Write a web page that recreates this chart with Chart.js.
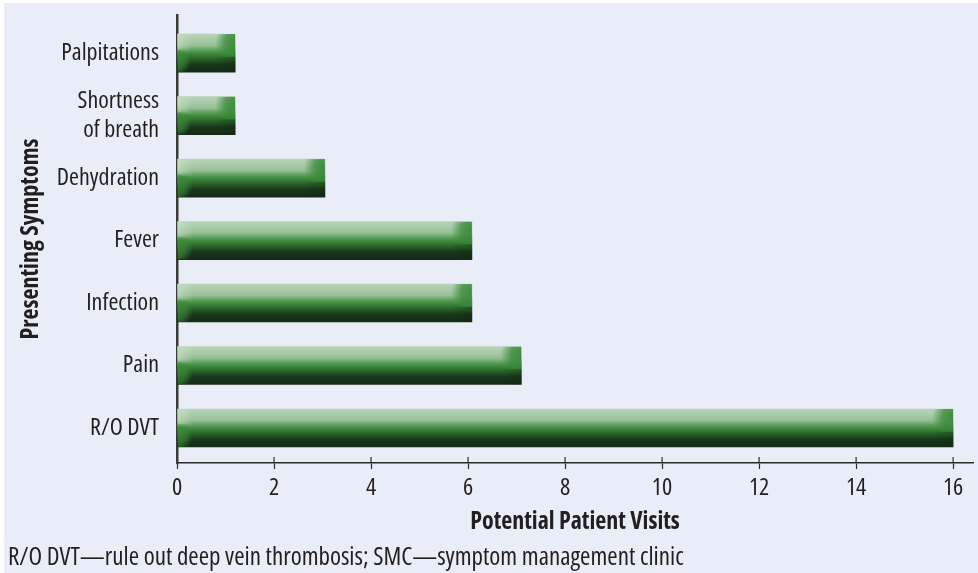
<!DOCTYPE html>
<html><head><meta charset="utf-8">
<script src="https://cdn.jsdelivr.net/npm/chart.js@4"></script>
<style>html,body{margin:0;padding:0;background:#fff}#wrap{width:978px;height:573px;position:relative}</style>
</head><body><div id="wrap"><canvas id="c"></canvas></div>
<script>
const categories = ['Palpitations', ['Shortness', 'of breath'], 'Dehydration', 'Fever', 'Infection', 'Pain', 'R/O DVT'];
const visits = [1.2, 1.2, 3.05, 6.08, 6.08, 7.1, 16];
const xTickValues = [0, 2, 4, 6, 8, 10, 12, 14, 16];
const xTitle = 'Potential Patient Visits';
const yTitle = 'Presenting Symptoms';
const footnote = 'R/O DVT\u2014rule out deep vein thrombosis; SMC\u2014symptom management clinic';

const n = categories.length;
const points = visits.map((v, i) => ({ x: v, y: n - 1 - i }));
const TXT = '#231f20';
const FAM = '"Open Sans", sans-serif';
const BAR_H = 38;

const panelBg = {
  id: 'panelBg',
  beforeDraw(chart) {
    const c = chart.ctx;
    c.save();
    c.fillStyle = '#ffffff';
    c.fillRect(0, 0, chart.width, chart.height);
    c.fillStyle = '#e9edf8';
    c.fillRect(4, 3, chart.width - 4, chart.height - 3);
    c.restore();
  }
};

function barGradient(context) {
  const chart = context.chart;
  const ys = chart.scales.y;
  if (!ys || !context.raw) return '#3b853b';
  const cy = ys.getPixelForValue(context.raw.y);
  if (!isFinite(cy)) return '#3b853b';
  const top = cy - BAR_H / 2, bot = cy + BAR_H / 2;
  const g = chart.ctx.createLinearGradient(0, top, 0, bot);
  g.addColorStop(0, '#b6d3b6');
  g.addColorStop(0.15, '#aacbaa');
  g.addColorStop(0.3, '#96bf96');
  g.addColorStop(0.42, '#5c9f5c');
  g.addColorStop(0.52, '#3c883c');
  g.addColorStop(0.66, '#286128');
  g.addColorStop(0.8, '#19381b');
  g.addColorStop(1, '#142a15');
  return g;
}

const barEnds = {
  id: 'barEnds',
  afterDatasetsDraw(chart) {
    const meta = chart.getDatasetMeta(0);
    const c = chart.ctx;
    meta.data.forEach(el => {
      const p = el.getProps(['x', 'y', 'base', 'height'], true);
      const h = p.height, top = p.y - h / 2;
      const right = p.x, left = p.base;
      if (![h, top, right, left].every(isFinite)) return;
      c.save();
      c.beginPath();
      c.rect(left, top, right - left, h);
      c.clip();
      // right end: soft medium-green glow at the top, darker at the bottom
      const w = Math.min(20, (right - left) / 3);
      let g = c.createRadialGradient(right + 2, top + h * 0.22, 0, right + 2, top + h * 0.22, w * 1.15);
      g.addColorStop(0, 'rgba(55,135,55,0.95)');
      g.addColorStop(0.55, 'rgba(55,135,55,0.75)');
      g.addColorStop(1, 'rgba(55,135,55,0)');
      c.fillStyle = g;
      c.fillRect(right - w * 1.2, top, w * 1.2, h * 0.75);
      g = c.createLinearGradient(right - w, 0, right, 0);
      g.addColorStop(0, 'rgba(18,40,18,0)');
      g.addColorStop(1, 'rgba(18,40,18,0.5)');
      c.fillStyle = g;
      c.fillRect(right - w, top + h * 0.6, w, h * 0.4);
      // left end: pale highlight on top, green lip below
      const lw = Math.min(16, (right - left) / 4);
      g = c.createLinearGradient(left, 0, left + lw, 0);
      g.addColorStop(0, 'rgba(215,235,215,0.45)');
      g.addColorStop(1, 'rgba(215,235,215,0)');
      c.fillStyle = g;
      c.fillRect(left, top, lw, h * 0.45);
      g = c.createRadialGradient(left - 2, top + h * 0.68, 0, left - 2, top + h * 0.68, lw * 1.1);
      g.addColorStop(0, 'rgba(60,140,60,0.9)');
      g.addColorStop(0.6, 'rgba(60,140,60,0.6)');
      g.addColorStop(1, 'rgba(60,140,60,0)');
      c.fillStyle = g;
      c.fillRect(left, top + h * 0.4, lw * 1.1, h * 0.6);
      c.restore();
    });
  }
};

const upTicks = {
  id: 'upTicks',
  afterDraw(chart) {
    const xs = chart.scales.x, c = chart.ctx;
    c.save();
    c.strokeStyle = '#2b2b2b';
    c.lineWidth = 1.2;
    xTickValues.forEach(v => {
      if (v === 0) return;
      const px = xs.getPixelForValue(v);
      c.beginPath();
      c.moveTo(px, xs.top - 6);
      c.lineTo(px, xs.top);
      c.stroke();
    });
    c.restore();
  }
};

new Chart(document.getElementById('c'), {
  type: 'bar',
  data: {
    datasets: [{
      data: points,
      backgroundColor: barGradient,
      borderWidth: 0,
      barThickness: BAR_H
    }]
  },
  plugins: [panelBg, barEnds, upTicks],
  options: {
    indexAxis: 'y',
    responsive: true,
    maintainAspectRatio: false,
    animation: false,
    layout: { padding: { left: 8, top: 15, right: 5, bottom: 0 } },
    plugins: {
      legend: { display: false },
      tooltip: { enabled: false },
      subtitle: {
        display: true,
        position: 'bottom',
        align: 'start',
        text: footnote,
        color: TXT,
        font: { family: FAM, size: 25, weight: 'condensed', lineHeight: 1.2 },
        padding: { top: 6, bottom: 0 }
      }
    },
    scales: {
      x: {
        type: 'linear',
        min: 0,
        max: 16.41,
        afterBuildTicks(scale) { scale.ticks = xTickValues.map(v => ({ value: v })); },
        afterFit(scale) { scale.height = 74; scale.paddingLeft = 0; scale.paddingRight = 0; },
        border: { display: true, color: '#2b2b2b', width: 1.5 },
        grid: { display: true, drawOnChartArea: false, drawTicks: true, tickLength: 6, tickColor: '#2b2b2b', tickWidth: 1.2 },
        ticks: { color: TXT, font: { family: FAM, size: 24, weight: 'condensed', lineHeight: 1.2 }, padding: 5, maxRotation: 0 },
        title: {
          display: true,
          text: xTitle,
          color: TXT,
          font: { family: FAM, size: 24, weight: 'bold condensed', lineHeight: 1.2 },
          padding: { top: 0, bottom: 0 }
        }
      },
      y: {
        type: 'linear',
        offset: false,
        min: -0.56,
        max: 6.61,
        afterBuildTicks(scale) { scale.ticks = categories.map((c, i) => ({ value: i })); },
        afterFit(scale) { scale.width = 169; scale.paddingTop = 0; scale.paddingBottom = 0; },
        border: { display: true, color: '#3a3a3a', width: 2.5 },
        grid: { display: false, drawTicks: false },
        ticks: {
          color: TXT,
          font: { family: FAM, size: 24, weight: 'condensed', lineHeight: 1.2 },
          padding: 18,
          callback: (v) => categories[n - 1 - v]
        },
        title: {
          display: true,
          text: yTitle,
          color: TXT,
          font: { family: FAM, size: 24, weight: 'bold condensed', lineHeight: 1.2 },
          padding: { top: 9, bottom: 0 }
        }
      }
    }
  }
});
</script></body></html>
